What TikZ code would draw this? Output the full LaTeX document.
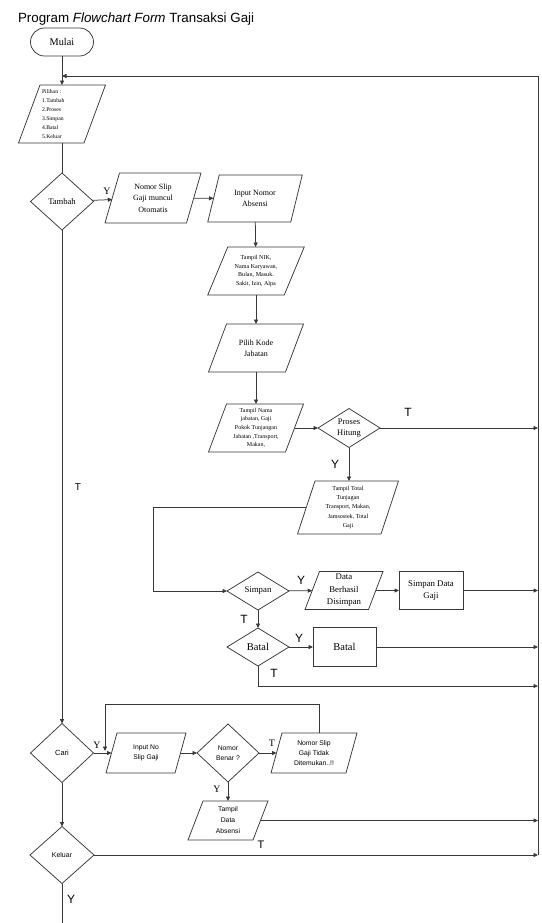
\documentclass[tikz,border=0pt]{standalone}
\usepackage{fontspec}
\setmainfont{Liberation Serif}
\setsansfont{Liberation Sans}
\usetikzlibrary{shapes.geometric,arrows.meta}
\newcommand\fs[2]{\fontsize{#1}{#2}\selectfont}
\newcommand\paral[2]{\draw[ln] ([xshift=#2*0.5bp]#1.north west) -- ([xshift=#2*0.5bp]#1.north east) -- ([xshift=-#2*0.5bp]#1.south east) -- ([xshift=-#2*0.5bp]#1.south west) -- cycle;}
\tikzset{
  every node/.style={inner sep=0pt, outer sep=0pt},
  ln/.style={draw=black!78, line width=0.75bp},
  arr/.style={ln, -{Triangle[length=4.5bp,width=4bp]}},
  para/.style={rectangle, align=center},
  dia/.style={diamond, ln, inner sep=0pt},
  dtext/.style={align=center},
  box/.style={rectangle, ln, align=center},
  slbl/.style={font=\sffamily\fs{12}{14}},
  tlbl/.style={font=\fs{10}{12}},
}
\begin{document}
\begin{tikzpicture}[x=1bp,y=-1bp]
\useasboundingbox (0,0) rectangle (542,923);
% title
\node[anchor=west, font=\sffamily\fs{13.4}{15}] (title) at (18,19) {Program \textit{Flowchart Form} Transaksi Gaji};
% start
\node[box, rounded corners=14bp, minimum width=63bp, minimum height=28bp, font=\fs{10.3}{12}] (mulai) at (62,42) {Mulai};
% pilihan
\node[para, minimum width=65.5bp, minimum height=58bp, text width=40bp, align=left, font=\fs{5.7}{9}] (pil) at (62,114) {Pilihan :\\1.Tambah\\2.Proses\\3.Simpan\\4.Batal\\5.Keluar};
\paral{pil}{21.5}
% tambah
\node[dia, minimum width=63bp, minimum height=57bp, label={[dtext, font=\fs{8.6}{10}]center:Tambah}] (tambah) at (62,201.5) {};
\node[para, minimum width=81.5bp, minimum height=50bp, font=\fs{8}{11.5}] (nslip) at (153,198) {Nomor Slip\\Gaji muncul\\Otomatis};
\paral{nslip}{14.5}
\node[para, minimum width=83bp, minimum height=47bp, font=\fs{8}{11}] (inabs) at (255,198.5) {Input Nomor\\Absensi};
\paral{inabs}{11.5}
\node[para, minimum width=76.5bp, minimum height=48bp, font=\fs{6.1}{8.8}] (nik) at (256,271) {Tampil  NIK,\\Nama Karyawan,\\Bulan, Masuk.\\Sakit, Izin, Alpa};
\paral{nik}{20}
\node[para, minimum width=77bp, minimum height=48bp, font=\fs{8}{11}] (kode) at (256,348) {Pilih Kode\\Jabatan};
\paral{kode}{18}
\node[para, minimum width=77bp, minimum height=48bp, font=\fs{6}{8.7}] (nama) at (256,428) {Tampil Nama\\jabatan, Gaji\\Pokok Tunjangan\\Jabatan ,Transport,\\Makan,};
\paral{nama}{18}
\node[dia, minimum width=62bp, minimum height=39bp, label={[dtext, font=\fs{8.5}{11}]center:Proses\\Hitung}] (proses) at (349,428) {};
\node[para, minimum width=83.5bp, minimum height=53bp, font=\fs{6.1}{9.2}] (total) at (348,507.5) {Tampil Total\\Tunjagan\\Transport, Makan,\\Jamsostek, Total\\Gaji};
\paral{total}{17.5}
\node[dia, minimum width=62bp, minimum height=38bp, label={[dtext, font=\fs{8.8}{11}]center:Simpan}] (simpan) at (258,591) {};
\node[para, minimum width=63.5bp, minimum height=38bp, font=\fs{8.8}{12.5}] (berhasil) at (344,590.5) {Data\\Berhasil\\Disimpan};
\paral{berhasil}{14.5}
\node[box, minimum width=64bp, minimum height=38bp, font=\fs{8.8}{13}] (simdata) at (431,590.5) {Simpan Data\\Gaji};
\node[dia, minimum width=62bp, minimum height=38bp, label={[dtext, font=\fs{10.5}{12}]center:Batal}] (batal) at (258,647) {};
\node[box, minimum width=63bp, minimum height=39bp, font=\fs{10.5}{12}] (batalbox) at (344.5,647) {Batal};
% cari section
\node[dia, minimum width=63bp, minimum height=59bp, label={[dtext, font=\sffamily\fs{7.5}{10}]center:Cari}] (cari) at (62,753) {};
\node[para, minimum width=69bp, minimum height=40bp, font=\sffamily\fs{6.8}{10}] (inno) at (146,753) {Input No\\Slip Gaji};
\paral{inno}{11}
\node[dia, minimum width=62bp, minimum height=58bp, label={[dtext, font=\sffamily\fs{6.8}{10}]center:Nomor\\Benar ?}] (benar) at (228,753) {};
\node[para, minimum width=75bp, minimum height=40bp, font=\sffamily\fs{6.8}{10.3}] (tidak) at (314,753) {Nomor Slip\\Gaji Tidak\\Ditemukan..!!};
\paral{tidak}{11}
\node[para, minimum width=65bp, minimum height=39bp, font=\sffamily\fs{6.8}{11}] (tdata) at (228,820.5) {Tampil\\Data\\Absensi};
\paral{tdata}{15}
\node[dia, minimum width=64bp, minimum height=57bp, label={[dtext, font=\sffamily\fs{7}{10}]center:Keluar}] (keluar) at (62,855) {};
% coordinates
\coordinate (rtop) at (538,76);
\coordinate (rbot) at (538,855);
\coordinate (jtop) at (62,76);
\coordinate (e1) at (538,428);
\coordinate (e2) at (538,590.5);
\coordinate (e3) at (538,647);
\coordinate (e4) at (538,686);
\coordinate (e5) at (538,820.5);
\coordinate (bt1) at (258,686);
\coordinate (tl1) at (153,507.5);
\coordinate (lp0) at (319,733);
\coordinate (lp1) at (319,704);
\coordinate (lp2) at (105,704);
\coordinate (lp3) at (105,751);
\coordinate (bottom) at (62,923);
% connectors
\draw[arr] (mulai) -- (pil);
\draw[arr] (rbot) -- (rtop) -- (jtop);
\draw[ln] (pil) -- (tambah);
\draw[arr] (tambah) -- (nslip);
\draw[arr] (nslip) -- (inabs);
\draw[arr] (inabs) -- (nik);
\draw[arr] (nik) -- (kode);
\draw[arr] (kode) -- (nama);
\draw[arr] (nama) -- (proses);
\draw[arr] (proses) -- (e1);
\draw[arr] (proses.south) -- (proses.south |- total.north);
\draw[arr] (total.west) -- (tl1) |- (simpan.west);
\draw[arr] (simpan) -- (berhasil);
\draw[arr] (berhasil) -- (simdata);
\draw[arr] (simdata) -- (e2);
\draw[arr] (simpan) -- (batal);
\draw[arr] (batal) -- (batalbox);
\draw[arr] (batalbox) -- (e3);
\draw[arr] (batal.south) -- (bt1) -- (e4);
\draw[arr] (tambah) -- (cari);
\draw[arr] (cari) -- (inno);
\draw[arr] (inno) -- (benar);
\draw[arr] (benar) -- (tidak);
\draw[arr] (lp0) -- (lp1) -- (lp2) -- (lp3);
\draw[arr] (benar) -- (tdata);
\draw[arr] (tdata) -- (e5);
\draw[arr] (cari) -- (keluar);
\draw[arr] (keluar) -- (rbot);
\draw[ln] (keluar.south) -- (bottom);
% labels
\node[tlbl] (ly1) at (107,191) {Y};
\node[slbl] (lt1) at (408,412) {T};
\node[slbl] (ly2) at (335,464) {Y};
\node[slbl] (ly3) at (301,580) {Y};
\node[slbl] (lt2) at (244,619) {T};
\node[slbl] (ly4) at (299,638) {Y};
\node[slbl] (lt3) at (274,673) {T};
\node[font=\sffamily\fs{10}{12}] (lt4) at (78,487) {T};
\node[tlbl] (ly5) at (97,745) {Y};
\node[tlbl] (lt5) at (272,743) {T};
\node[tlbl] (ly6) at (217,789) {Y};
\node[font=\sffamily\fs{11}{12}] (lt6) at (261,845) {T};
\node[slbl] (ly7) at (71,899) {Y};
\end{tikzpicture}
\end{document}
